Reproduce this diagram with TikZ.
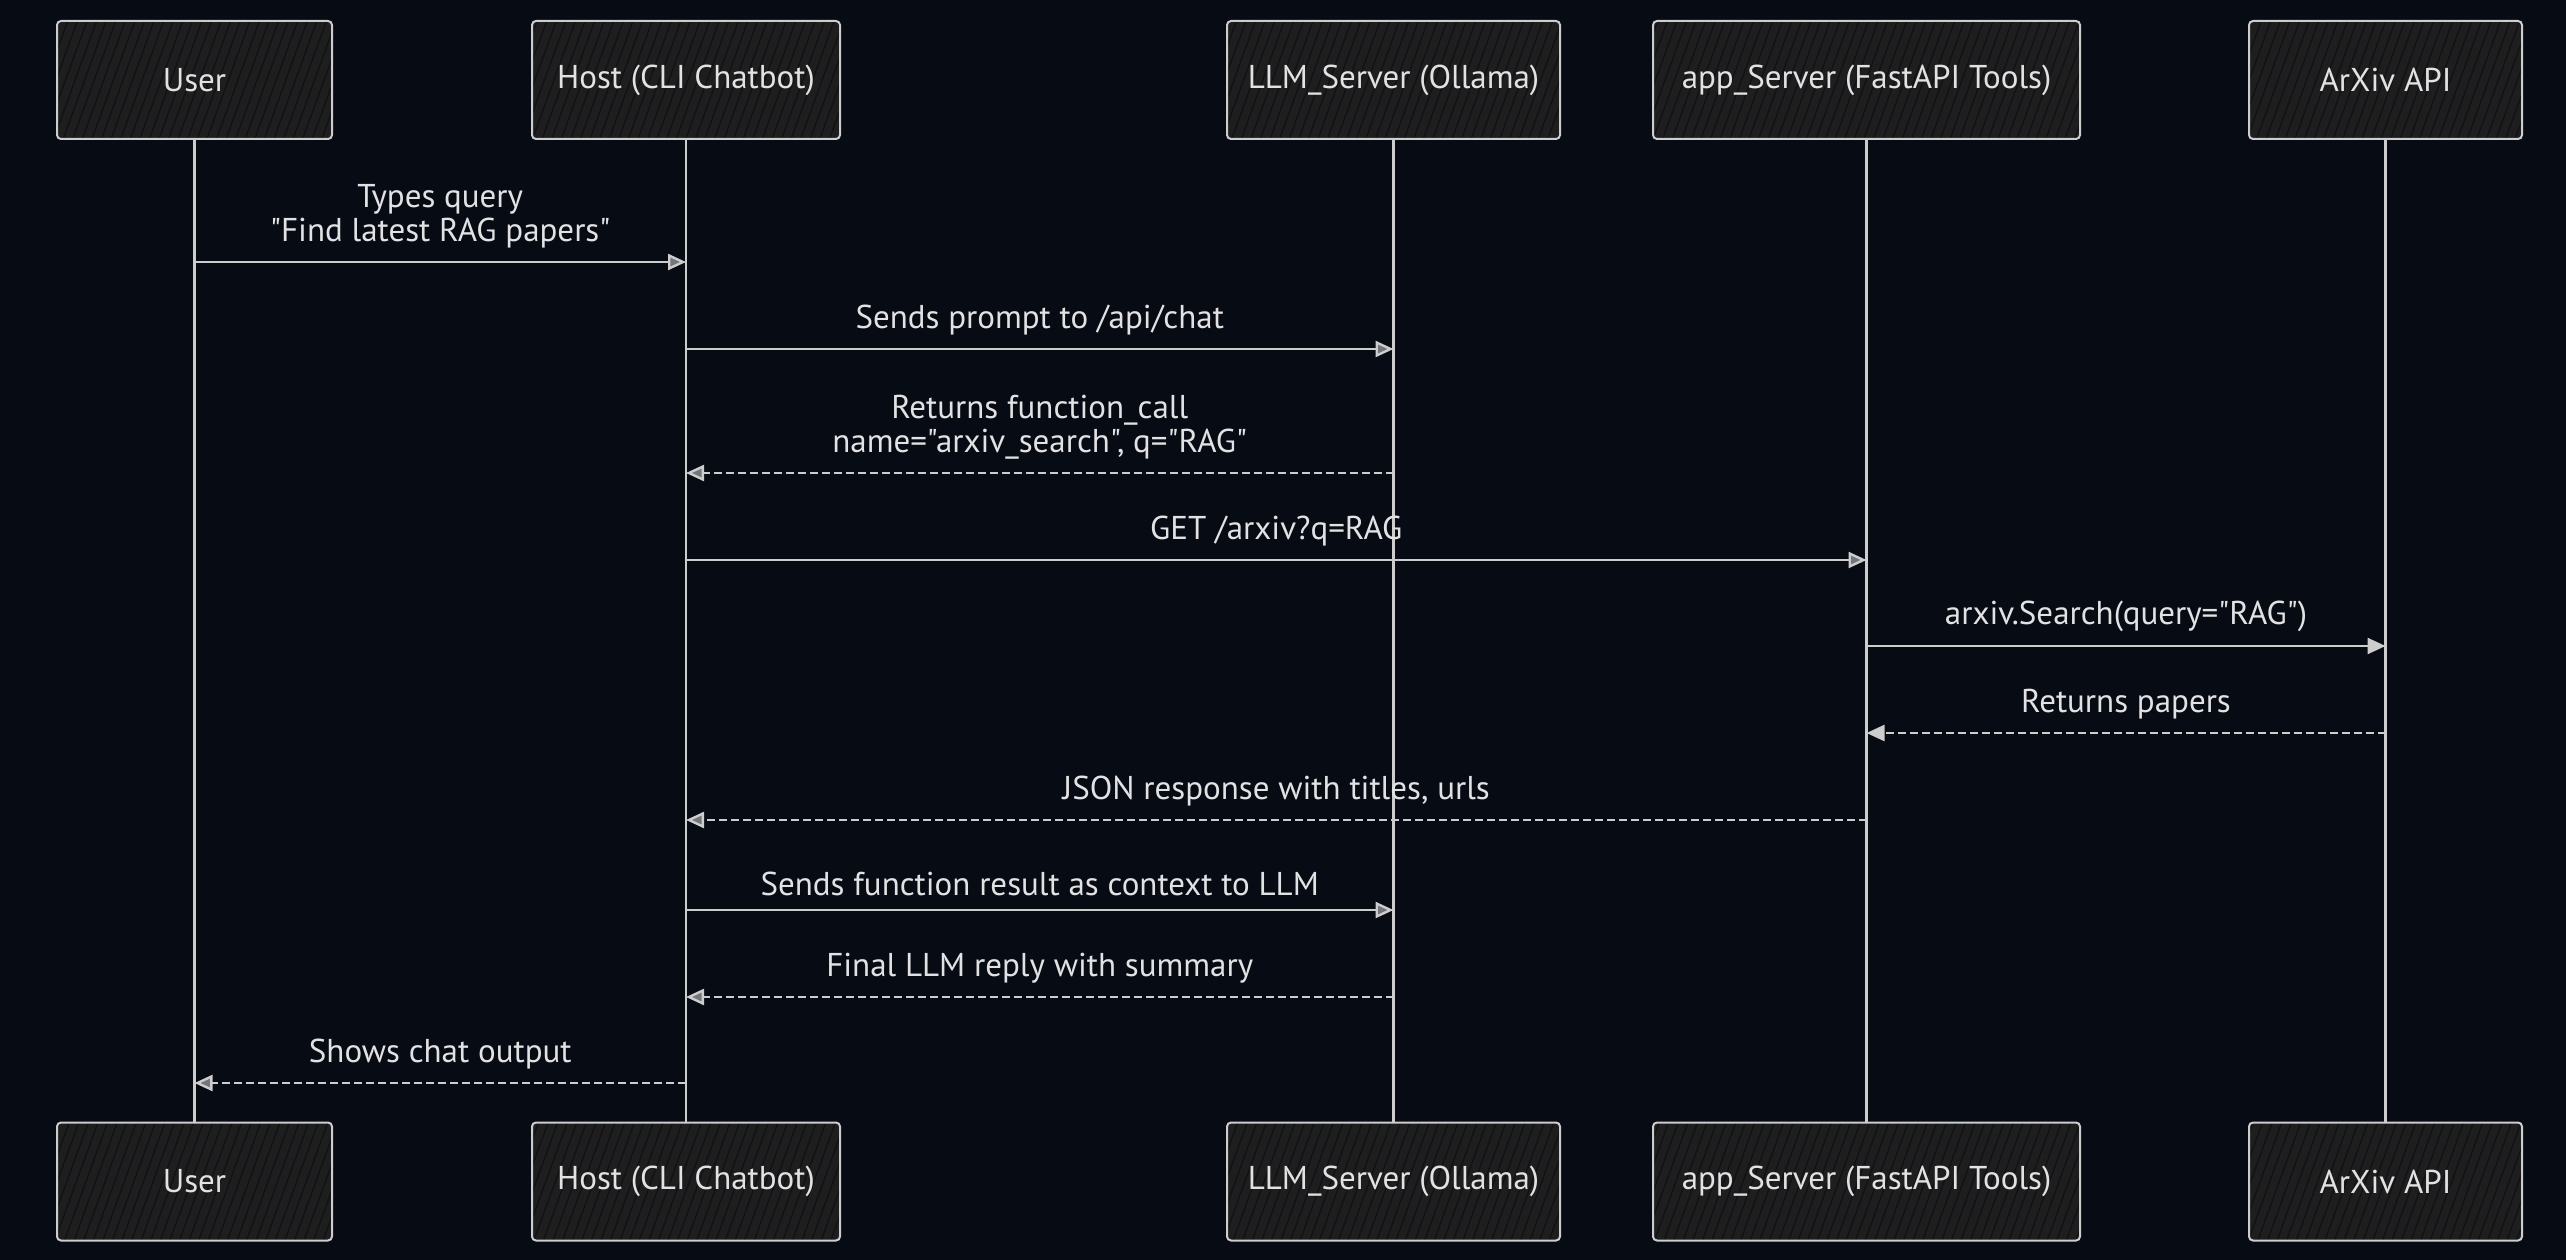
\documentclass[tikz,border=0pt]{standalone}
\usepackage{fontspec}
\setmainfont{PT Sans}[Ligatures=TeXOff]
\usetikzlibrary{arrows.meta,patterns.meta}
\definecolor{bgc}{RGB}{6,11,20}
\definecolor{boxfill}{RGB}{30,30,30}
\definecolor{hatchc}{RGB}{16,18,22}
\definecolor{linec}{RGB}{205,205,205}
\definecolor{textc}{RGB}{226,226,226}
\tikzset{
  actor/.style={draw=linec, line width=2pt, rounded corners=4pt,
    preaction={fill=boxfill},
    pattern={Lines[angle=70,distance=9pt,line width=1.4pt]}, pattern color=hatchc,
    minimum height=118pt, text=textc, font=\fontsize{33}{36}\selectfont, inner sep=0pt},
  lifeline/.style={draw=linec, line width=2.2pt},
  msg/.style={draw=linec, line width=2.4pt, -{Triangle[length=18pt,width=16pt,fill=linec!55!bgc]}},
  ret/.style={msg, dash pattern=on 8pt off 4pt},
  lbl/.style={text=textc, font=\fontsize{33}{34}\selectfont, align=center, inner sep=2pt, midway, above=11pt}
}
\begin{document}
\begin{tikzpicture}[x=1pt,y=-1pt]
\fill[bgc] (0,0) rectangle (2566,1260);
\useasboundingbox (0,0) rectangle (2566,1260);
% top boxes
\node[actor, minimum width=275pt] (userT) at (194.5,80) {User};
\node[actor, minimum width=308pt] (hostT) at (686,80) {Host (CLI Chatbot)};
\node[actor, minimum width=333pt] (llmT) at (1393.5,80) {LLM\_Server (Ollama)};
\node[actor, minimum width=427pt] (appT) at (1866.5,80) {app\_Server (FastAPI Tools)};
\node[actor, minimum width=273pt] (arxT) at (2385.5,80) {ArXiv API};
% bottom boxes
\node[actor, minimum width=275pt] (userB) at (194.5,1181.5) {User};
\node[actor, minimum width=308pt] (hostB) at (686,1181.5) {Host (CLI Chatbot)};
\node[actor, minimum width=333pt] (llmB) at (1393.5,1181.5) {LLM\_Server (Ollama)};
\node[actor, minimum width=427pt] (appB) at (1866.5,1181.5) {app\_Server (FastAPI Tools)};
\node[actor, minimum width=273pt] (arxB) at (2385.5,1181.5) {ArXiv API};
% lifelines
\draw[lifeline] (userT.south) -- (userB.north);
\draw[lifeline] (hostT.south) -- (hostB.north);
\draw[lifeline] (llmT.south) -- (llmB.north);
\draw[lifeline, line width=3pt] (appT.south) -- (appB.north);
\draw[lifeline] (arxT.south) -- (arxB.north);
% message end points
\coordinate (m1a) at (194.5,262); \coordinate (m1b) at (686,262);
\coordinate (m2a) at (686,349);   \coordinate (m2b) at (1393.5,349);
\coordinate (m3a) at (1393.5,473);\coordinate (m3b) at (686,473);
\coordinate (m4a) at (686,560);   \coordinate (m4b) at (1866.5,560);
\coordinate (m5a) at (1866.5,646);\coordinate (m5b) at (2385.5,646);
\coordinate (m6a) at (2385.5,733);\coordinate (m6b) at (1866.5,733);
\coordinate (m7a) at (1866.5,820);\coordinate (m7b) at (686,820);
\coordinate (m8a) at (686,910);   \coordinate (m8b) at (1393.5,910);
\coordinate (m9a) at (1393.5,997);\coordinate (m9b) at (686,997);
\coordinate (m10a) at (686,1083); \coordinate (m10b) at (194.5,1083);
% messages
\draw[msg] (m1a) -- node[lbl]{Types query\\"Find latest RAG papers"} (m1b);
\draw[msg] (m2a) -- node[lbl]{Sends prompt to /api/chat} (m2b);
\draw[ret] (m3a) -- node[lbl]{Returns function\_call\\name="arxiv\_search", q="RAG"} (m3b);
\draw[msg] (m4a) -- node[lbl]{GET /arxiv?q=RAG} (m4b);
\draw[msg, -{Triangle[length=18pt,width=16pt,fill=linec]}] (m5a) -- node[lbl]{arxiv.Search(query="RAG")} (m5b);
\draw[ret, -{Triangle[length=18pt,width=16pt,fill=linec]}] (m6a) -- node[lbl]{Returns papers} (m6b);
\draw[ret] (m7a) -- node[lbl]{JSON response with titles, urls} (m7b);
\draw[msg] (m8a) -- node[lbl]{Sends function result as context to LLM} (m8b);
\draw[ret] (m9a) -- node[lbl]{Final LLM reply with summary} (m9b);
\draw[ret] (m10a) -- node[lbl]{Shows chat output} (m10b);
\end{tikzpicture}
\end{document}
